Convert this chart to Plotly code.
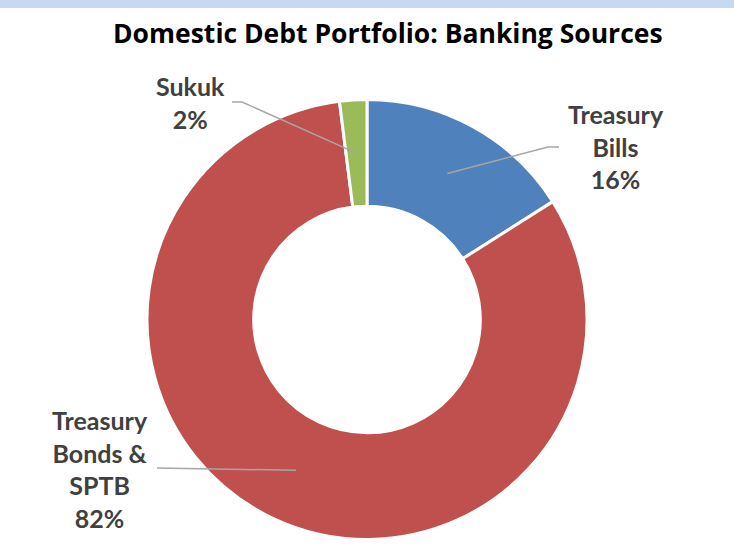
import math
import plotly.graph_objects as go

# Portfolio shares (percent), in clockwise order from 12 o'clock
categories = ["Treasury Bills", "Treasury Bonds & SPTB", "Sukuk"]
shares = [16, 82, 2]
label_text = ["Treasury<br>Bills", "Treasury<br>Bonds &<br>SPTB", "Sukuk"]
colors = ["#4f81bd", "#c0504d", "#9bbb59"]

W, H = 734, 551
CX, CY, R_OUT = 367, 319.5, 220
HOLE = 0.515
R_MID = R_OUT * (1 + HOLE) / 2


def px(x, y):
    """Pixel position -> paper coordinates."""
    return x / W, 1 - y / H


fig = go.Figure()
fig.add_trace(go.Pie(
    labels=categories,
    values=shares,
    sort=False,
    direction="clockwise",
    rotation=0,
    hole=HOLE,
    marker=dict(colors=colors, line=dict(color="white", width=3)),
    textinfo="none",
    hoverinfo="label+percent",
    showlegend=False,
    domain=dict(x=[(CX - R_OUT) / W, (CX + R_OUT) / W],
                y=[1 - (CY + R_OUT) / H, 1 - (CY - R_OUT) / H]),
))

# Label placement (pixel centre of text block) and leader-line waypoints
label_pos = [(616, 146), (100, 469), (190, 103)]
leader_tail = [[(548, 147), (559, 147)], [(157, 468)], [(242, 102), (232, 102)]]

total = sum(shares)
cum = 0
shapes = []
annotations = []
for i, v in enumerate(shares):
    mid = 2 * math.pi * (cum + v / 2) / total
    cum += v
    sx = CX + R_MID * math.sin(mid)
    sy = CY - R_MID * math.cos(mid)
    pts = [(sx, sy)] + leader_tail[i]
    path = ""
    for j, (x, y) in enumerate(pts):
        pxx, pyy = px(x, y)
        path += ("M" if j == 0 else " L") + f" {pxx:.5f},{pyy:.5f}"
    shapes.append(dict(type="path", xref="paper", yref="paper", path=path,
                       line=dict(color="#a6a6a6", width=1.5)))
    pct = round(100 * v / total)
    lx, ly = px(*label_pos[i])
    annotations.append(dict(
        x=lx, y=ly, xref="paper", yref="paper", xanchor="center", yanchor="middle",
        text=f"<b>{label_text[i]}<br>{pct}%</b>", showarrow=False, align="center",
        font=dict(family="Lato", size=25, color="#404040"),
    ))

# Title
tx, ty = px(388, 33)
annotations.append(dict(
    x=tx, y=ty, xref="paper", yref="paper", xanchor="center", yanchor="middle",
    text="<b>Domestic Debt Portfolio: Banking Sources</b>", showarrow=False,
    font=dict(family="Open Sans", size=26.5, color="#000000"),
))

# Thin band along the top edge
shapes.append(dict(type="rect", xref="paper", yref="paper", x0=0, x1=1,
                   y0=1 - 8 / H, y1=1, fillcolor="#c6d9f1", line=dict(width=0)))

fig.update_layout(
    width=W, height=H,
    margin=dict(l=0, r=0, t=0, b=0),
    paper_bgcolor="white",
    plot_bgcolor="white",
    shapes=shapes,
    annotations=annotations,
)

fig.write_html("out.html")
